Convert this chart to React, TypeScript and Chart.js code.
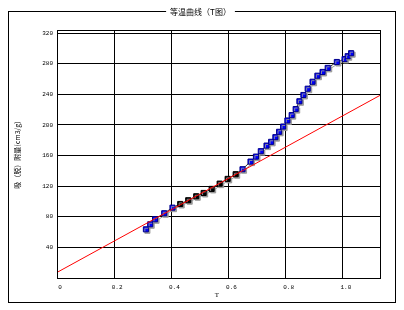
import React, { useEffect, useRef } from 'react';
import { Chart, registerables } from 'chart.js';

Chart.register(...registerables);

const TITLE = '等温曲线（T图）';
const X_TITLE = 'T';
const Y_TITLE = '吸（脱）附量(cm3/g)';

const T = [0.311, 0.326, 0.343, 0.375, 0.404, 0.431, 0.459, 0.487, 0.513, 0.541, 0.569, 0.597, 0.625, 0.649, 0.677, 0.696, 0.713, 0.733, 0.749, 0.764, 0.777, 0.791, 0.806, 0.821, 0.835, 0.848, 0.862, 0.877, 0.894, 0.911, 0.929, 0.947, 0.979, 1.006, 1.017, 1.029];
const V = [63.6, 70.2, 76.7, 84.6, 91.9, 96.7, 101.6, 106.8, 111.1, 116.4, 123.3, 129.5, 135.6, 142.1, 152.1, 158.6, 165.7, 173.0, 177.9, 184.0, 191.0, 197.9, 205.8, 212.8, 220.7, 230.9, 239.1, 247.3, 256.4, 264.3, 269.2, 274.5, 282.2, 286.1, 289.8, 293.7];
const FIT_START = 5;
const FIT_END = 12;
const FIT_INTERCEPT = 7.3;
const FIT_SLOPE = 204.7;

const X_MAX = 1.13;
const Y_MAX = 324;
const X_TICKS = [0, 0.2, 0.4, 0.6, 0.8, 1.0];
const X_TICK_LABELS = ['0', '0.2', '0.4', '0.6', '0.8', '1.0'];
const Y_TICKS = [0, 40, 80, 120, 160, 200, 240, 280, 320];
const Y_TICK_LABELS = ['', '40', '80', '120', '160', '200', '240', '280', '320'];

export default function App() {
  const ref = useRef<HTMLCanvasElement>(null);

  useEffect(() => {
    document.body.style.margin = '0';
    const canvas = ref.current!;
    const pts = T.map((t, i) => ({ x: t, y: V[i] }));
    const isFit = (i: number) => i >= FIT_START && i <= FIT_END;
    const fitLine = [
      { x: 0, y: FIT_INTERCEPT },
      { x: X_MAX, y: FIT_INTERCEPT + FIT_SLOPE * X_MAX },
    ];

    const shadowPlugin = {
      id: 'shadow',
      beforeDatasetDraw(chart: any, args: any) {
        if (args.index === 1) {
          const c = chart.ctx;
          c.save();
          c.shadowColor = 'rgba(150,150,150,0.9)';
          c.shadowOffsetX = 1.5;
          c.shadowOffsetY = 1.5;
          c.shadowBlur = 0;
        }
      },
      afterDatasetDraw(chart: any, args: any) {
        if (args.index === 1) chart.ctx.restore();
      },
    };

    const framePlugin = {
      id: 'frame',
      afterDraw(chart: any) {
        const c = chart.ctx;
        const a = chart.chartArea;
        c.save();
        c.strokeStyle = '#000';
        c.lineWidth = 1;
        c.strokeRect(8.5, 11.5, 387, 291);
        c.strokeRect(Math.round(a.left) + 0.5, Math.round(a.top) + 0.5, Math.round(a.right - a.left), Math.round(a.bottom - a.top));
        c.font = '8px "Noto Sans CJK SC"';
        const w = c.measureText(TITLE).width;
        c.fillStyle = '#fff';
        c.fillRect(200.5 - w / 2 - 4, 7, w + 8, 10);
        c.fillStyle = '#000';
        c.textAlign = 'center';
        c.textBaseline = 'middle';
        c.fillText(TITLE, 200.5, 12);
        c.font = '7px "Liberation Serif"';
        c.fillText(X_TITLE, 217, 295);
        c.translate(17, 155);
        c.rotate(-Math.PI / 2);
        c.font = '7px "Noto Sans CJK SC"';
        c.fillText(Y_TITLE, 0, 0);
        c.restore();
      },
    };

    const chart = new Chart(canvas, {
      type: 'scatter',
      data: {
        datasets: [
          {
            label: 'fit',
            data: fitLine,
            showLine: true,
            borderColor: '#ff0000',
            borderWidth: 1,
            pointRadius: 0,
            order: 0,
          },
          {
            label: 'isotherm',
            data: pts,
            showLine: true,
            borderColor: '#303030',
            borderWidth: 1,
            pointStyle: 'rect',
            pointRadius: 3.6,
            pointBorderWidth: 1,
            pointBackgroundColor: pts.map((_, i) => (isFit(i) ? '#000000' : '#0000ff')),
            pointBorderColor: pts.map((_, i) => (isFit(i) ? '#000000' : '#00008c')),
            order: 1,
          },
        ],
      },
      options: {
        animation: false,
        responsive: false,
        devicePixelRatio: 1,
        layout: { padding: { top: 30, right: 24, left: 0, bottom: 0 } },
        plugins: { legend: { display: false }, tooltip: { enabled: false }, title: { display: false } },
        scales: {
          x: {
            type: 'linear',
            min: 0,
            max: X_MAX,
            afterBuildTicks: (s: any) => {
              s.ticks = X_TICKS.map((v) => ({ value: v }));
            },
            afterFit: (s: any) => {
              s.height = 32;
            },
            grid: { color: '#000', lineWidth: 1, drawTicks: false },
            border: { display: false },
            ticks: {
              callback: (_v: any, i: number) => X_TICK_LABELS[i],
              font: { family: 'Liberation Mono', size: 6 },
              color: '#000',
              padding: 6,
              labelOffset: 3,
              maxRotation: 0,
              autoSkip: false,
            },
          },
          y: {
            type: 'linear',
            min: 0,
            max: Y_MAX,
            afterBuildTicks: (s: any) => {
              s.ticks = Y_TICKS.map((v) => ({ value: v }));
            },
            afterFit: (s: any) => {
              s.width = 57;
            },
            grid: { color: '#000', lineWidth: 1, drawTicks: false },
            border: { display: false },
            ticks: {
              callback: (_v: any, i: number) => Y_TICK_LABELS[i],
              font: { family: 'Liberation Mono', size: 6 },
              color: '#000',
              padding: 4,
              autoSkip: false,
            },
          },
        },
      },
      plugins: [shadowPlugin, framePlugin],
    });
    return () => chart.destroy();
  }, []);

  return (
    <div style={{ width: 404, height: 310, background: '#fff' }}>
      <canvas ref={ref} width={404} height={310} style={{ display: 'block', width: 404, height: 310 }} />
    </div>
  );
}
